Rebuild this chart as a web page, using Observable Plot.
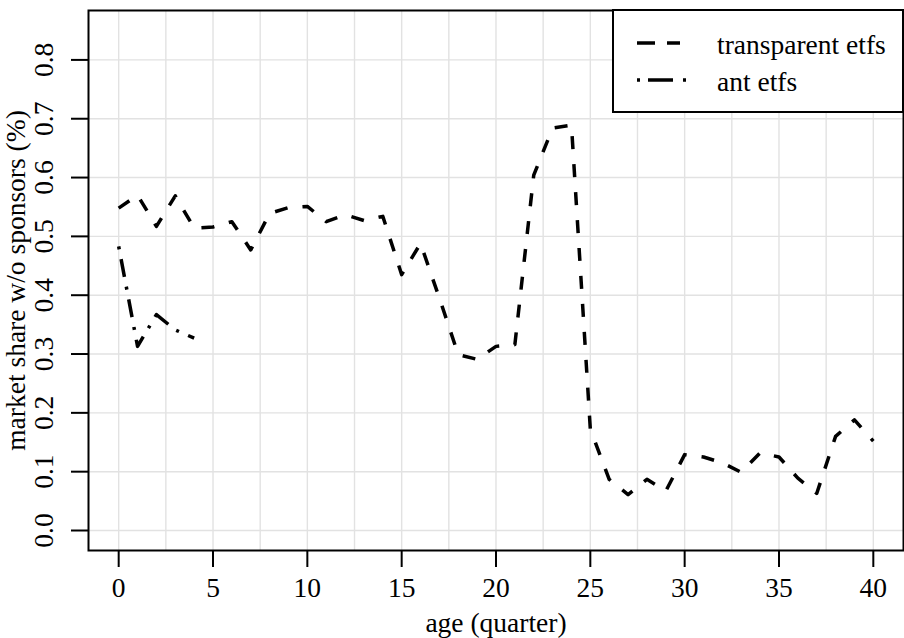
<!DOCTYPE html>
<html>
<head>
<meta charset="utf-8">
<script src="https://cdn.jsdelivr.net/npm/d3@7"></script>
<script src="https://cdn.jsdelivr.net/npm/@observablehq/plot@0.6"></script>
<style>
  html, body { margin: 0; padding: 0; background: #fff; }
  #wrap { position: relative; width: 904px; height: 638px; }
  #wrap svg text { font-family: "Liberation Serif", "Times New Roman", serif !important; }
  #legend { position: absolute; left: 612px; top: 9px; }
</style>
</head>
<body>
<div id="wrap">
  <div id="chart"></div>
  <svg id="legend" width="292" height="104"></svg>
</div>
<script>
const ages = d3.range(0, 41);
const transparentEtfs = [
  0.548, 0.570, 0.517, 0.569, 0.514, 0.516, 0.525, 0.477, 0.539, 0.549,
  0.551, 0.525, 0.537, 0.527, 0.534, 0.435, 0.488, 0.395, 0.299, 0.291,
  0.313, 0.316, 0.604, 0.684, 0.689, 0.172, 0.087, 0.061, 0.087, 0.067,
  0.129, 0.125, 0.115, 0.099, 0.132, 0.125, 0.089, 0.063, 0.160, 0.188,
  0.152
];
const antAges = [0, 1, 2, 3, 4];
const antEtfs = [0.483, 0.313, 0.367, 0.341, 0.327];
const xTicks = [0, 5, 10, 15, 20, 25, 30, 35, 40];
const yTicks = [0, 0.1, 0.2, 0.3, 0.4, 0.5, 0.6, 0.7, 0.8];
const yTickLabels = ["0.0", "0.1", "0.2", "0.3", "0.4", "0.5", "0.6", "0.7", "0.8"];
const seriesNames = ["transparent etfs", "ant etfs"];
const seriesDash = ["13,15", "3,10,18,10"];
const legendDash = ["18,12", "3,8,25,10"];

const transparentData = ages.map((a, i) => ({age: a, share: transparentEtfs[i]}));
const antData = antAges.map((a, i) => ({age: a, share: antEtfs[i]}));

const font = "Liberation Serif";
const fs = 27.5;
const chart = Plot.plot({
  width: 904,
  height: 638,
  marginLeft: 88,
  marginRight: 1,
  marginTop: 10,
  marginBottom: 88,
  style: {fontFamily: "'Liberation Serif', serif", background: "#fff"},
  x: {domain: [-1.6, 41.6]},
  y: {domain: [-0.034, 0.884]},
  marks: [
    Plot.gridX(d3.range(0, 42, 2.5), {stroke: "#e2e2e2", strokeOpacity: 1, strokeWidth: 1.4}),
    Plot.gridY(yTicks, {stroke: "#e2e2e2", strokeOpacity: 1, strokeWidth: 1.4}),
    Plot.axisX({ticks: xTicks, tickSize: 17, tickFormat: () => "", label: null, strokeWidth: 2}),
    Plot.axisY({ticks: yTicks, tickSize: 17, tickFormat: () => "", label: null, strokeWidth: 2}),
    Plot.text(xTicks, {x: d => d, frameAnchor: "bottom", dy: 38, text: d => String(d), fontSize: fs, lineAnchor: "middle", fontFamily: font, fill: "#000"}),
    Plot.text(yTicks, {y: d => d, frameAnchor: "left", dx: -44, text: (d, i) => yTickLabels[i], rotate: -90, textAnchor: "middle", lineAnchor: "middle", fontSize: fs, fontFamily: font, fill: "#000"}),
    Plot.text(["age (quarter)"], {frameAnchor: "bottom", dy: 73, text: d => d, fontSize: fs, lineAnchor: "middle", fontFamily: font, fill: "#000"}),
    Plot.text(["market share w/o sponsors (%)"], {frameAnchor: "left", dx: -72, text: d => d, rotate: -90, textAnchor: "middle", lineAnchor: "middle", fontSize: fs, fontFamily: font, fill: "#000"}),
    Plot.line(transparentData, {x: "age", y: "share", stroke: "#000", strokeWidth: 3.5, strokeDasharray: seriesDash[0], strokeLinecap: "butt", strokeLinejoin: "round"}),
    Plot.line(antData, {x: "age", y: "share", stroke: "#000", strokeWidth: 3.5, strokeDasharray: seriesDash[1], strokeLinecap: "butt", strokeLinejoin: "round"}),
    Plot.frame({stroke: "#000", strokeWidth: 2})
  ]
});
document.getElementById("chart").appendChild(chart);

// legend (local coords: page x - 612, page y - 9)
const legend = d3.select("#legend");
legend.append("rect").attr("x", 1).attr("y", 1).attr("width", 290).attr("height", 102)
  .attr("fill", "#fff").attr("stroke", "#000").attr("stroke-width", 2);
const legendY = [34, 71];
const legendX2 = [68, 75];
seriesNames.forEach((name, i) => {
  legend.append("line")
    .attr("x1", 25).attr("x2", legendX2[i]).attr("y1", legendY[i]).attr("y2", legendY[i])
    .attr("stroke", "#000").attr("stroke-width", 3.5)
    .attr("stroke-dasharray", legendDash[i]);
  legend.append("text")
    .attr("x", 105).attr("y", legendY[i] + 11)
    .attr("font-family", font).attr("font-size", fs)
    .text(name);
});
</script>
</body>
</html>
